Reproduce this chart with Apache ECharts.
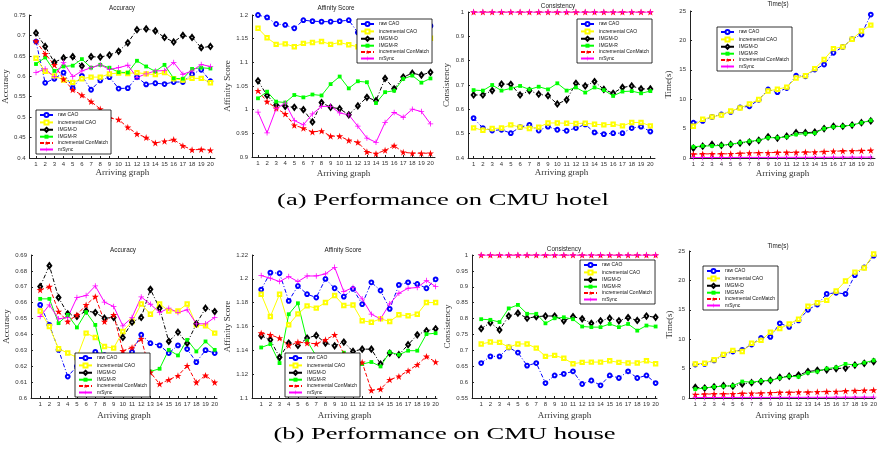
<!DOCTYPE html>
<html><head><meta charset="utf-8">
<script src="https://cdn.jsdelivr.net/npm/echarts@6/dist/echarts.min.js"></script>
<style>html,body{margin:0;padding:0;background:#fff}#c{width:880px;height:457px}</style>
</head><body><div id="c"></div>
<script>
const graphs = [1,2,3,4,5,6,7,8,9,10,11,12,13,14,15,16,17,18,19,20];
const seriesNames = ['raw CAO','incremental CAO','IMGM-D','IMGM-R','incremental ConMatch','mSync'];

// (a) CMU hotel
const hAccRaw  = [0.685,0.584,0.594,0.609,0.571,0.601,0.567,0.590,0.598,0.570,0.571,0.598,0.580,0.583,0.581,0.586,0.586,0.605,0.616,0.588];
const hAccInc  = [0.644,0.612,0.601,0.591,0.585,0.594,0.598,0.598,0.606,0.608,0.607,0.609,0.606,0.604,0.609,0.594,0.591,0.595,0.595,0.584];
const hAccD    = [0.706,0.673,0.634,0.645,0.648,0.625,0.648,0.647,0.652,0.661,0.682,0.714,0.716,0.711,0.695,0.684,0.700,0.695,0.670,0.673];
const hAccR    = [0.630,0.646,0.613,0.624,0.626,0.642,0.621,0.628,0.621,0.610,0.609,0.638,0.624,0.612,0.628,0.595,0.594,0.618,0.621,0.619];
const hAccCon  = [0.686,0.655,0.628,0.593,0.567,0.554,0.538,0.520,0.498,0.494,0.475,0.459,0.450,0.437,0.441,0.445,0.430,0.420,0.421,0.419];
const hAccSync = [0.609,0.618,0.599,0.634,0.599,0.613,0.621,0.628,0.617,0.621,0.627,0.597,0.606,0.613,0.614,0.634,0.605,0.613,0.629,0.624];

const hAffRaw  = [1.200,1.195,1.181,1.179,1.172,1.189,1.187,1.186,1.186,1.187,1.189,1.163,1.170,1.175,1.178,1.180,1.178,1.177,1.176,1.177];
const hAffInc  = [1.172,1.152,1.138,1.139,1.133,1.140,1.142,1.144,1.138,1.142,1.137,1.133,1.140,1.140,1.144,1.146,1.147,1.148,1.149,1.151];
const hAffD    = [1.061,1.030,1.010,1.007,1.005,1.000,0.974,1.015,1.005,1.002,0.989,1.008,1.026,1.019,1.066,1.044,1.069,1.077,1.073,1.079];
const hAffR    = [1.024,1.038,1.017,1.015,1.031,1.026,1.032,1.030,1.054,1.070,1.045,1.060,1.058,1.014,1.037,1.040,1.065,1.072,1.057,1.066];
const hAffCon  = [1.040,1.017,1.003,0.991,0.967,0.961,0.953,0.955,0.944,0.944,0.935,0.931,0.911,0.907,0.914,0.924,0.910,0.908,0.908,0.908];
const hAffSync = [0.995,0.951,1.002,1.014,0.977,0.968,0.991,1.007,1.007,0.993,0.989,0.965,0.940,0.931,0.973,0.994,0.984,1.001,0.996,0.970];

const hConRaw  = [0.564,0.523,0.513,0.516,0.502,0.527,0.536,0.513,0.529,0.516,0.512,0.523,0.538,0.505,0.498,0.502,0.502,0.523,0.529,0.509];
const hConInc  = [0.524,0.514,0.521,0.523,0.536,0.527,0.521,0.527,0.544,0.544,0.543,0.542,0.543,0.539,0.536,0.539,0.532,0.546,0.546,0.532];
const hConD    = [0.659,0.659,0.677,0.704,0.703,0.659,0.677,0.662,0.656,0.622,0.639,0.707,0.696,0.714,0.682,0.666,0.690,0.696,0.684,0.684];
const hConR    = [0.679,0.677,0.700,0.677,0.686,0.696,0.682,0.693,0.682,0.707,0.677,0.690,0.669,0.690,0.679,0.655,0.673,0.675,0.666,0.675];
const hConCon  = [1,1,1,1,1,1,1,1,1,1,1,1,1,1,1,1,1,1,1,1];
const hConSync = [1,1,1,1,1,1,1,1,1,1,1,1,1,1,1,1,1,1,1,1];

const hTimeRaw  = [6.0,6.3,7.0,7.4,7.85,8.6,8.8,9.9,11.65,11.2,11.9,14.0,13.9,15.05,15.9,17.9,18.9,20.2,21.0,24.4];
const hTimeInc  = [5.4,6.6,7.0,7.3,8.0,8.5,9.2,9.95,11.4,11.7,12.05,13.6,14.0,15.2,16.75,18.6,18.9,20.2,21.6,22.6];
const hTimeD    = [1.7,2.0,2.3,2.15,2.3,2.55,2.7,3.0,3.6,3.4,3.7,4.3,4.3,4.4,5.0,5.4,5.4,5.6,6.0,6.3];
const hTimeR    = [1.9,2.05,2.05,2.15,2.35,2.6,2.85,3.0,3.45,3.45,3.6,4.0,4.15,4.25,5.0,5.3,5.4,5.6,6.0,6.4];
const hTimeCon  = [0.65,0.7,0.7,0.7,0.72,0.8,0.85,0.9,0.9,0.95,0.95,0.95,1.0,1.0,1.1,1.15,1.2,1.2,1.25,1.3];
const hTimeSync = [0.08,0.08,0.09,0.09,0.09,0.1,0.1,0.1,0.1,0.11,0.11,0.11,0.12,0.12,0.12,0.13,0.13,0.14,0.14,0.15];

// (b) CMU house
const oAccRaw  = [0.6586,0.6460,0.6303,0.6135,0.620,0.626,0.629,0.627,0.626,0.627,0.629,0.6398,0.6345,0.6331,0.6283,0.6331,0.6308,0.6226,0.6301,0.6283];
const oAccInc  = [0.6548,0.6450,0.6310,0.6283,0.6255,0.6408,0.6381,0.6324,0.6314,0.6419,0.6481,0.6592,0.6527,0.6592,0.6548,0.6548,0.6592,0.6460,0.6454,0.6408];
const oAccD    = [0.6701,0.6833,0.6632,0.6530,0.6513,0.6548,0.6538,0.6502,0.6507,0.6381,0.6477,0.6507,0.6684,0.6565,0.6356,0.6414,0.6345,0.6467,0.6565,0.6544];
const oAccR    = [0.6624,0.6624,0.6471,0.6523,0.6444,0.6540,0.6460,0.622,0.620,0.618,0.617,0.6167,0.6167,0.6184,0.6303,0.6268,0.6366,0.6293,0.6356,0.6303];
const oAccCon  = [0.6680,0.6701,0.6544,0.6481,0.6523,0.6586,0.6638,0.6481,0.6523,0.6297,0.6318,0.6373,0.6161,0.6088,0.6115,0.6140,0.6203,0.6098,0.6142,0.6098];
const oAccSync = [0.6513,0.6586,0.6498,0.6507,0.6632,0.6645,0.6705,0.6603,0.6576,0.6454,0.6507,0.6636,0.6590,0.6538,0.6565,0.6538,0.6555,0.6467,0.6467,0.6507];

const oAffRaw  = [1.191,1.2052,1.2047,1.1815,1.1940,1.1871,1.1843,1.1999,1.1921,1.1851,1.1915,1.1787,1.1971,1.1902,1.1748,1.1949,1.1971,1.1957,1.1921,1.1996];
const oAffInc  = [1.1871,1.1684,1.1871,1.1614,1.1706,1.1773,1.1754,1.1801,1.1860,1.1776,1.1781,1.1648,1.1636,1.1664,1.1642,1.1698,1.1690,1.1703,1.1801,1.1801];
const oAffD    = [1.1522,1.1489,1.1341,1.1461,1.1441,1.1503,1.1525,1.1461,1.1438,1.1469,1.1391,1.1410,1.1410,1.1285,1.1377,1.1363,1.1447,1.1530,1.1564,1.1581];
const oAffR    = [1.1424,1.1452,1.1293,1.1703,1.1795,1.148,1.135,1.133,1.131,1.138,1.133,1.1285,1.1302,1.1265,1.1385,1.1363,1.1397,1.1397,1.1536,1.1544];
const oAffCon  = [1.1544,1.1530,1.1503,1.1441,1.1469,1.1461,1.1455,1.1489,1.1530,1.137,1.133,1.1299,1.1064,1.1075,1.1153,1.1181,1.1229,1.1279,1.1349,1.1302];
const oAffSync = [1.2027,1.2005,1.1977,1.2019,1.1977,1.2024,1.2024,1.2041,1.2097,1.1893,1.1927,1.1832,1.1703,1.1664,1.1790,1.1879,1.1921,1.1927,1.1985,1.1935];

const oConRaw  = [0.660,0.681,0.681,0.709,0.693,0.652,0.660,0.597,0.621,0.626,0.634,0.594,0.605,0.590,0.621,0.613,0.634,0.613,0.621,0.597];
const oConInc  = [0.720,0.726,0.725,0.710,0.720,0.720,0.707,0.681,0.684,0.675,0.658,0.662,0.663,0.663,0.667,0.662,0.660,0.660,0.667,0.658];
const oConD    = [0.768,0.787,0.764,0.808,0.817,0.801,0.806,0.808,0.808,0.793,0.806,0.799,0.785,0.793,0.801,0.793,0.803,0.794,0.808,0.804];
const oConR    = [0.798,0.796,0.789,0.832,0.843,0.815,0.815,0.785,0.801,0.804,0.798,0.775,0.773,0.773,0.783,0.773,0.783,0.762,0.778,0.775];
const oConCon  = [1,1,1,1,1,1,1,1,1,1,1,1,1,1,1,1,1,1,1,1];
const oConSync = [1,1,1,1,1,1,1,1,1,1,1,1,1,1,1,1,1,1,1,1];

const oTimeRaw  = [5.7,5.8,6.4,7.3,7.9,8.2,9.1,10.2,10.4,12.7,12.1,13.2,15.0,15.9,17.7,17.9,17.7,20.9,22.2,24.2];
const oTimeInc  = [5.8,5.9,6.5,7.4,8.1,7.9,9.3,9.8,11.2,11.8,12.6,13.4,15.6,16.2,16.6,18.2,19.9,21.4,22.1,24.5];
const oTimeD    = [1.8,1.7,1.9,2.1,2.0,2.4,2.6,2.8,3.0,3.5,3.7,3.9,4.5,4.7,4.8,5.0,5.1,5.6,5.9,6.2];
const oTimeR    = [1.5,1.7,1.9,2.0,2.1,2.8,2.7,2.9,3.0,3.4,3.7,3.6,4.3,4.5,5.0,5.2,5.8,5.6,6.0,6.4];
const oTimeCon  = [0.6,0.65,0.7,0.7,0.7,0.8,0.8,0.85,0.9,0.95,0.95,1.0,1.0,1.05,1.1,1.1,1.2,1.25,1.3,1.35];
const oTimeSync = [0.08,0.08,0.09,0.09,0.09,0.1,0.1,0.1,0.1,0.11,0.11,0.11,0.12,0.12,0.12,0.13,0.13,0.14,0.14,0.15];

const captionA = '(a) Performance on CMU hotel';
const captionB = '(b) Performance on CMU house';

// ---- layout / style ----
const panels = [
  {t:'Accuracy', y:'Accuracy', d:[hAccRaw,hAccInc,hAccD,hAccR,hAccCon,hAccSync], min:0.4, max:0.75, step:0.05,
   g:[29,15,186,143], xr:[0.3,20.5], tc:[122,9], lg:[36,110], yg:17.5, xg:10.5},
  {t:'Affinity Score', y:'Affinity Score', d:[hAffRaw,hAffInc,hAffD,hAffR,hAffCon,hAffSync], min:0.9, max:1.2, step:0.05,
   g:[252,15,183,142], xr:[0.34,20.5], tc:[336,9], lg:[357,19], yg:18.5, xg:12},
  {t:'Consistency', y:'Consistency', d:[hConRaw,hConInc,hConD,hConR,hConCon,hConSync], min:0.4, max:1, step:0.1,
   g:[468,12,187,146], xr:[0.4,20.5], tc:[558,7], lg:[577,19], yg:16.5, xg:10.5},
  {t:'Time(s)', y:'Time(s)', d:[hTimeRaw,hTimeInc,hTimeD,hTimeR,hTimeCon,hTimeSync], min:0, max:25, step:5,
   g:[690,11,185,147], xr:[0.64,20.45], tc:[778,5], lg:[717,27], yg:16.5, xg:11.5},
  {t:'Accuracy', y:'Accuracy', d:[oAccRaw,oAccInc,oAccD,oAccR,oAccCon,oAccSync], min:0.6, max:0.69, step:0.01,
   g:[31,255,186,143], xr:[0,20.25], tc:[123,251], lg:[75,353], yg:14.5, xg:13},
  {t:'Affinity Score', y:'Affinity Score', d:[oAffRaw,oAffInc,oAffD,oAffR,oAffCon,oAffSync], min:1.1, max:1.22, step:0.02,
   g:[252,255,185,143], xr:[0,20.15], tc:[343,251], lg:[285,353], yg:15.5, xg:13},
  {t:'Consistency', y:'Consistency', d:[oConRaw,oConInc,oConD,oConR,oConCon,oConSync], min:0.55, max:1, step:0.05,
   g:[472,255,185,143], xr:[0,20.15], tc:[564,250], lg:[580,260], yg:15.5, xg:13},
  {t:'Time(s)', y:'Time(s)', d:[oTimeRaw,oTimeInc,oTimeD,oTimeR,oTimeCon,oTimeSync], min:0, max:25, step:5,
   g:[689,251,188,147], xr:[0.33,20.15], tc:[778,247], lg:[703,266], yg:12.5, xg:13}
];

const STAR = 'path://M50,0L61.2,34.5L97.6,34.5L68.2,55.9L79.4,90.5L50,69.1L20.6,90.5L31.8,55.9L2.4,34.5L38.8,34.5Z';
const PLUS = 'path://M4.3,0H5.7V4.3H10V5.7H5.7V10H4.3V5.7H0V4.3H4.3Z';
const styles = [
  {c:'#0000ff', s:'emptyCircle', z:3.8, lt:[4,2,1,2], bw:1},
  {c:'#ffff00', s:'emptyRect', z:3.4, lt:'solid', bw:1},
  {c:'#000000', s:'emptyDiamond', z:[3.8,5], lt:[4,2,1,2], bw:1},
  {c:'#00ff00', s:'rect', z:3.8, lt:'solid', bw:0},
  {c:'#ff0000', s:STAR, z:7, lt:[4,2], bw:0},
  {c:'#ff00ff', s:PLUS, z:5.5, lt:'solid', bw:0}
];

const grid=[], xAxis=[], yAxis=[], series=[], legend=[], title=[];
panels.forEach((p,i)=>{
  grid.push({left:p.g[0], top:p.g[1], width:p.g[2], height:p.g[3]});
  xAxis.push({type:'value', gridIndex:i, min:p.xr[0], max:p.xr[1],
    name:'Arriving graph', nameLocation:'middle', nameGap:p.xg,
    nameTextStyle:{fontFamily:'Liberation Serif', fontSize:9, color:'#333'},
    axisLine:{onZero:false, lineStyle:{color:'#222', width:1}},
    axisTick:{inside:true, length:2, customValues:graphs, lineStyle:{color:'#222'}},
    axisLabel:{customValues:graphs, fontSize:6, color:'#333', margin:3, fontFamily:'Liberation Sans'},
    splitLine:{show:false}});
  yAxis.push({type:'value', gridIndex:i, min:p.min, max:p.max, interval:p.step,
    name:p.y, nameLocation:'middle', nameGap:p.yg,
    nameTextStyle:{fontFamily:'Liberation Serif', fontSize:9, color:'#333'},
    axisLine:{show:true, onZero:false, lineStyle:{color:'#222', width:1}},
    axisTick:{show:true, inside:true, length:2, lineStyle:{color:'#222'}},
    axisLabel:{fontSize:6, color:'#333', margin:4, fontFamily:'Liberation Sans'},
    splitLine:{show:false}});
  title.push({text:p.t, left:p.tc[0], top:p.tc[1]-3.5, textAlign:'center', padding:0,
    textStyle:{fontSize:6.3, fontWeight:'normal', color:'#222', fontFamily:'Liberation Sans'}});
  legend.push({left:p.lg[0], top:p.lg[1], orient:'vertical', data:seriesNames, selectedMode:false,
    backgroundColor:'#fff', borderColor:'#000', borderWidth:0.8, borderRadius:0, padding:[2,3,2,3],
    itemGap:1.4, itemWidth:13, itemHeight:5, z:10,
    textStyle:{fontSize:5, color:'#111', fontFamily:'Liberation Sans'}});
  p.d.forEach((vals,k)=>{
    const st = styles[k];
    series.push({type:'line', name:seriesNames[k], xAxisIndex:i, yAxisIndex:i,
      data: graphs.map((g,j)=>[g, vals[j]]),
      symbol:st.s, symbolSize:st.z, showSymbol:true, color:st.c,
      lineStyle:{width:1, type:st.lt, color:st.c},
      itemStyle:{color:st.c, borderColor:st.c, borderWidth:st.bw},
      emphasis:{disabled:true}, silent:true, animation:false});
  });
});

const chart = echarts.init(document.getElementById('c'), null, {renderer:'canvas'});
chart.setOption({
  animation:false, backgroundColor:'#fff',
  title, grid, xAxis, yAxis, series, legend, tooltip:{show:false},
  graphic:[
    {type:'text', x:443, y:201, scaleX:1.66, style:{text:captionA, font:'16px "Liberation Serif"', fill:'#000', textAlign:'center', textVerticalAlign:'middle'}},
    {type:'text', x:444.5, y:435, scaleX:1.66, style:{text:captionB, font:'16px "Liberation Serif"', fill:'#000', textAlign:'center', textVerticalAlign:'middle'}}
  ]
});
</script></body></html>
